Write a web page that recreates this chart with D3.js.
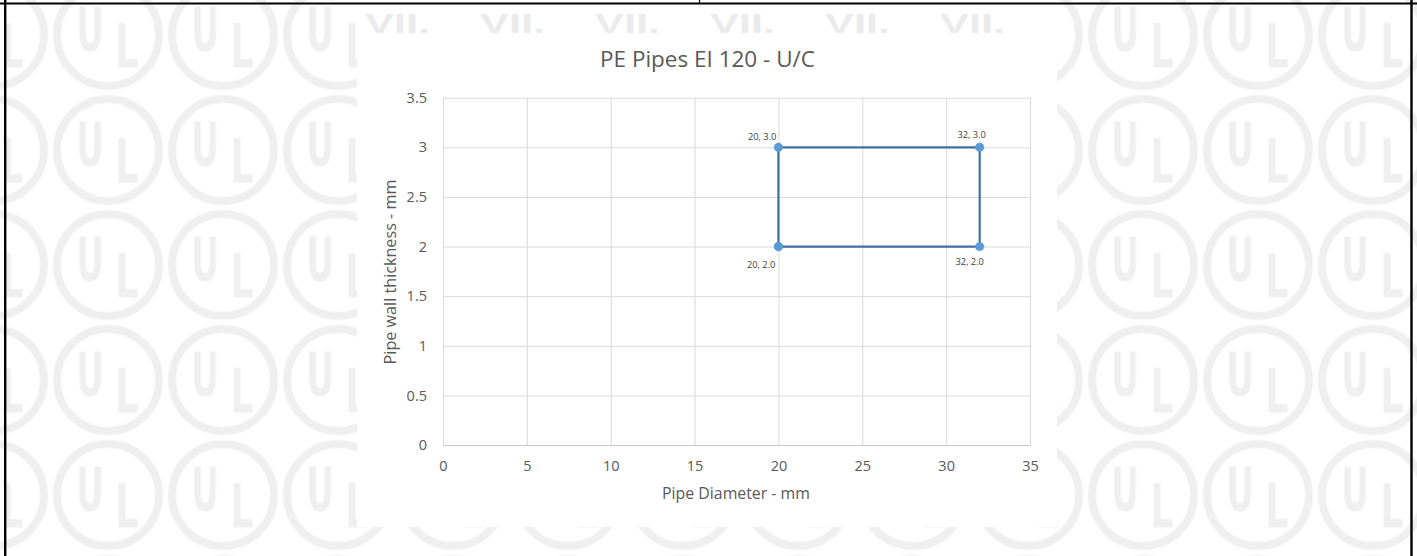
<!DOCTYPE html>
<html>
<head>
<meta charset="utf-8">
<script src="https://cdn.jsdelivr.net/npm/d3@7"></script>
<style>
  html, body { margin: 0; padding: 0; background: #ffffff; }
  svg { display: block; }
</style>
</head>
<body>
<svg id="chart" width="1417" height="556"></svg>
<script>
// ---- data ----
const chartTitle = "PE Pipes EI 120 - U/C";
const xAxisTitle = "Pipe Diameter - mm";
const yAxisTitle = "Pipe wall thickness - mm";
const pipeDiameter = [20, 20, 32, 32, 20];       // path order (closed rectangle)
const wallThickness = [2.0, 3.0, 3.0, 2.0, 2.0];
const pointLabels = ["20, 2.0", "20, 3.0", "32, 3.0", "32, 2.0"];
const xTicks = [0, 5, 10, 15, 20, 25, 30, 35];
const yTicks = [0, 0.5, 1, 1.5, 2, 2.5, 3, 3.5];
const watermarkWord = "VII.";

// ---- layout / style ----
const W = 1417, H = 556;
const FONT = "'Open Sans', 'Liberation Sans', sans-serif";
const plot = { left: 443, right: 1030, top: 97.7, bottom: 445 };
const panel = { x: 357, y: 33, w: 700, h: 494 };
const labelPlacement = [
  { dx: -3, dy: 21, anchor: "end" },
  { dx: -2, dy: -7, anchor: "end" },
  { dx: -8, dy: -9, anchor: "middle" },
  { dx: -10, dy: 18, anchor: "middle" }
];
const WM = "#efefef";

const svg = d3.select("#chart");
const defs = svg.append("defs");

// UL watermark pattern
const pat = defs.append("pattern")
  .attr("id", "ulpat").attr("patternUnits", "userSpaceOnUse")
  .attr("width", 115).attr("height", 115)
  .attr("x", 50.5).attr("y", -22.5);
pat.append("circle").attr("cx", 57.5).attr("cy", 57.5).attr("r", 51)
  .attr("fill", "none").attr("stroke", WM).attr("stroke-width", 8);
pat.append("text").text("U")
  .attr("transform", "translate(39.5,72.5) scale(0.56,1)")
  .attr("text-anchor", "middle").attr("font-family", "'DejaVu Sans', sans-serif")
  .attr("font-weight", "bold").attr("font-size", 61).attr("fill", WM);
pat.append("text").text("L")
  .attr("transform", "translate(76.5,89.5) scale(0.6,1)")
  .attr("text-anchor", "middle").attr("font-family", "'DejaVu Sans', sans-serif")
  .attr("font-weight", "bold").attr("font-size", 61).attr("fill", WM);

svg.append("rect").attr("width", W).attr("height", H).attr("fill", "#ffffff");
svg.append("rect").attr("width", W).attr("height", H).attr("fill", "url(#ulpat)");

// top band with large faint lettering
svg.append("rect").attr("x", panel.x).attr("y", 0).attr("width", panel.w).attr("height", panel.y).attr("fill", "#ffffff");
svg.append("g").selectAll("text.wm").data(d3.range(6)).join("text")
  .attr("class", "wm")
  .attr("transform", d => `translate(${365 + 115 * d},33) scale(1.55,1)`)
  .attr("font-family", "'Liberation Sans', sans-serif").attr("font-weight", "bold")
  .attr("font-size", 28).attr("fill", "#ebebeb")
  .text(watermarkWord);

// chart panel
svg.append("rect").attr("x", panel.x).attr("y", panel.y)
  .attr("width", panel.w).attr("height", panel.h).attr("fill", "#ffffff");

// scales
const x = d3.scaleLinear().domain([0, 35]).range([plot.left, plot.right]);
const y = d3.scaleLinear().domain([0, 3.5]).range([plot.bottom, plot.top]);

// gridlines
const grid = svg.append("g");
grid.append("g").attr("transform", `translate(0,${plot.bottom})`)
  .call(d3.axisBottom(x).tickValues(xTicks).tickSize(-(plot.bottom - plot.top)).tickFormat(""))
  .call(g => g.select(".domain").remove())
  .call(g => g.selectAll("line").attr("stroke", "#d9d9d9").attr("stroke-width", 1));
grid.append("g").attr("transform", `translate(${plot.left},0)`)
  .call(d3.axisLeft(y).tickValues(yTicks).tickSize(-(plot.right - plot.left)).tickFormat(""))
  .call(g => g.select(".domain").remove())
  .call(g => g.selectAll("line").attr("stroke", d => d === 0 ? "#c8c8c8" : "#d9d9d9").attr("stroke-width", 1));

// axis tick labels
const xAxis = svg.append("g").attr("transform", `translate(0,${plot.bottom})`)
  .call(d3.axisBottom(x).tickValues(xTicks).tickSize(0).tickPadding(16).tickFormat(d3.format("")));
xAxis.select(".domain").remove();
xAxis.selectAll("text").attr("font-family", FONT).attr("font-size", 14.5).attr("fill", "#595959");

const yAxis = svg.append("g").attr("transform", `translate(${plot.left},0)`)
  .call(d3.axisLeft(y).tickValues(yTicks).tickSize(0).tickPadding(16).tickFormat(d3.format("")));
yAxis.select(".domain").remove();
yAxis.selectAll("text").attr("font-family", FONT).attr("font-size", 14.5).attr("fill", "#595959");

function fit(sel, target) {
  const base = +sel.attr("font-size");
  const w = sel.node().getComputedTextLength();
  if (w > 0) sel.attr("font-size", base * target / w);
  return sel;
}

// titles
fit(svg.append("text").attr("x", 707.5).attr("y", 67).attr("text-anchor", "middle")
  .attr("font-family", FONT).attr("font-size", 20).attr("fill", "#595959").text(chartTitle), 215);
fit(svg.append("text").attr("x", 736).attr("y", 499).attr("text-anchor", "middle")
  .attr("font-family", FONT).attr("font-size", 15).attr("fill", "#595959").text(xAxisTitle), 148);
fit(svg.append("text").attr("transform", "translate(396,272) rotate(-90)").attr("text-anchor", "middle")
  .attr("font-family", FONT).attr("font-size", 15).attr("fill", "#595959").text(yAxisTitle), 185);

// series line
const pts = pipeDiameter.map((d, i) => [d, wallThickness[i]]);
svg.append("path").datum(pts)
  .attr("fill", "none").attr("stroke", "#41719c").attr("stroke-width", 2.2)
  .attr("stroke-linejoin", "round")
  .attr("d", d3.line().x(d => x(d[0])).y(d => y(d[1])));

// markers
svg.selectAll("circle.pt").data(pts).join("circle").attr("class", "pt")
  .attr("cx", d => x(d[0])).attr("cy", d => y(d[1])).attr("r", 4.3)
  .attr("fill", "#5b9bd5").attr("stroke", "#5b9bd5").attr("stroke-width", 0.5);

// data labels
svg.selectAll("text.lbl").data(pointLabels).join("text").attr("class", "lbl")
  .attr("x", (d, i) => x(pts[i][0]) + labelPlacement[i].dx)
  .attr("y", (d, i) => y(pts[i][1]) + labelPlacement[i].dy)
  .attr("text-anchor", (d, i) => labelPlacement[i].anchor)
  .attr("font-family", FONT).attr("font-size", 9.3).attr("fill", "#404040")
  .text(d => d);

// page borders
const border = svg.append("g").attr("stroke", "#000000");
border.append("line").attr("x1", 0).attr("x2", W).attr("y1", 3.6).attr("y2", 3.6).attr("stroke-width", 2);
border.append("line").attr("x1", 5.2).attr("x2", 5.2).attr("y1", 0).attr("y2", H).attr("stroke-width", 2.4);
border.append("line").attr("x1", 1411.5).attr("x2", 1411.5).attr("y1", 0).attr("y2", H).attr("stroke-width", 2.4);
border.append("line").attr("x1", 699.5).attr("x2", 699.5).attr("y1", 0).attr("y2", 4).attr("stroke-width", 1.2);
</script>
</body>
</html>
